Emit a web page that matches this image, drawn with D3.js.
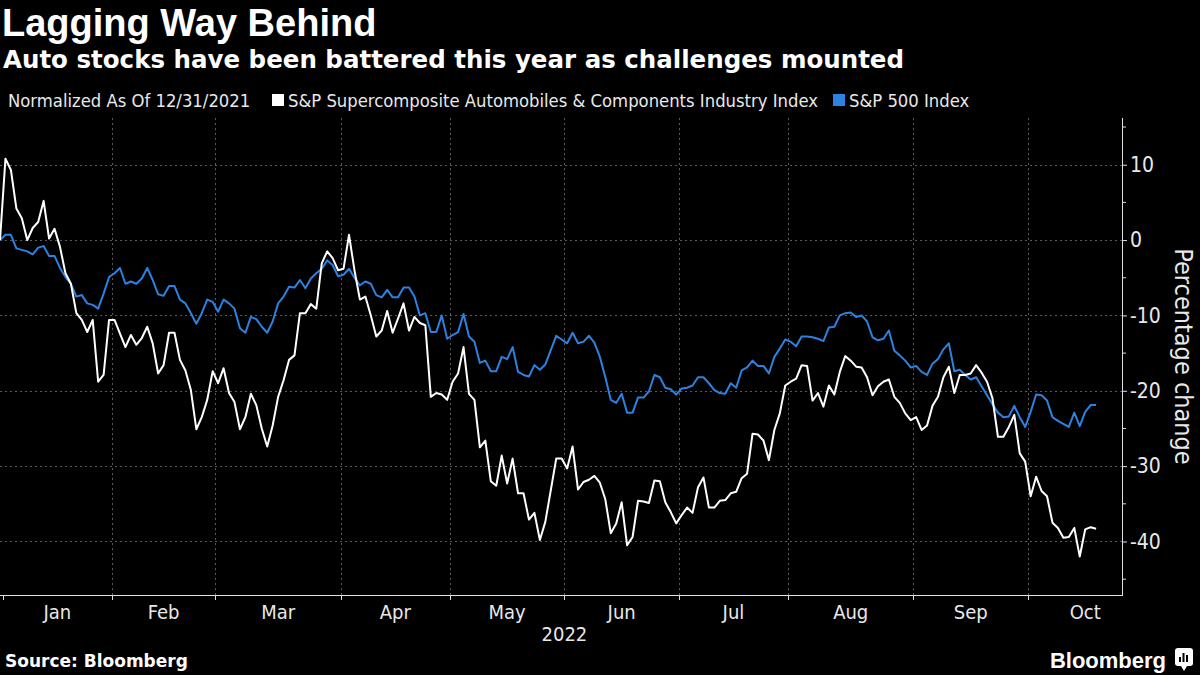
<!DOCTYPE html>
<html>
<head>
<meta charset="utf-8">
<script src="https://cdn.jsdelivr.net/npm/d3@7"></script>
<style>
  html, body { margin: 0; padding: 0; background: #000; }
  svg { display: block; }
  .cond { font-family: 'DejaVu Sans Condensed', 'DejaVu Sans', sans-serif; font-stretch: condensed; }
  .bold { font-family: 'Liberation Sans', Arial, sans-serif; font-weight: bold; }
  .wbold { font-family: 'DejaVu Sans', sans-serif; font-weight: bold; }
</style>
</head>
<body>
<svg id="chart" width="1200" height="675"></svg>
<script>
// ---- Data (trading-day index 0 = 12/31/2021, normalized % change) ----
const autoIndex = [
  0, 10.8, 9.3, 4.2, 2.9, 0.0, 1.6, 2.4, 5.2, 0.2,
  1.5, -0.9, -4.4, -5.8, -9.7, -10.6, -12.2, -10.6, -18.8, -17.9,
  -10.6, -10.6, -12.4, -14.2, -12.6, -13.9, -13.0, -11.5, -13.7, -17.7,
  -16.6, -12.3, -12.3, -15.9, -17.3, -19.9, -25.1, -23.5, -21.2, -17.4,
  -19.0, -17.0, -20.3, -21.5, -25.1, -23.5, -20.4, -21.9, -25.0, -27.4,
  -24.6, -20.8, -18.6, -15.9, -15.3, -9.7, -9.7, -8.5, -9.1, -3.1,
  -1.5, -2.4, -4.0, -3.8, 0.7, -4.0, -7.9, -7.5, -10.0, -12.8,
  -12.0, -9.4, -12.3, -10.4, -8.4, -12.0, -10.2, -11.0, -11.3, -20.8,
  -20.3, -20.5, -21.2, -18.8, -17.7, -14.2, -20.4, -21.2, -27.5, -26.6,
  -32.0, -32.6, -28.6, -32.3, -29.0, -33.6, -33.6, -37.1, -36.2, -39.8,
  -37.4, -33.2, -29.0, -29.0, -30.3, -27.4, -33.1, -32.1, -31.8, -31.3,
  -32.2, -34.4, -38.9, -37.6, -34.8, -40.5, -39.4, -34.6, -34.7, -34.9,
  -31.9, -32.0, -34.8, -36.1, -37.6, -36.5, -35.5, -36.2, -32.8, -31.5,
  -35.5, -35.5, -34.6, -34.5, -33.6, -33.4, -31.6, -31.0, -25.7, -25.8,
  -26.6, -29.2, -25.2, -23.0, -19.3, -18.8, -18.4, -16.6, -16.7, -21.3,
  -20.3, -22.1, -19.3, -20.5, -17.5, -15.4, -16.0, -16.8, -16.9, -18.2,
  -20.6, -19.4, -18.8, -18.5, -20.8, -21.6, -23.0, -23.9, -23.5, -25.2,
  -24.6, -22.0, -20.8, -18.2, -16.8, -20.3, -17.9, -17.9, -17.7, -16.6,
  -17.6, -18.8, -21.0, -26.1, -26.1, -24.8, -23.2, -28.3, -29.4, -34.0,
  -31.4, -33.3, -34.0, -37.5, -38.2, -39.5, -39.4, -38.2, -42.0, -38.4,
  -38.1, -38.3
];
const spxIndex = [
  0, 0.7, 0.7, -1.1, -1.3, -1.5, -1.9, -1.0, -0.8, -2.1,
  -2.1, -3.7, -4.9, -5.8, -7.5, -7.3, -8.4, -8.6, -9.1, -7.1,
  -4.9, -4.4, -3.7, -5.8, -5.5, -5.8, -5.1, -3.7, -5.3, -7.2,
  -7.4, -6.1, -6.1, -7.9, -8.4, -9.7, -11.1, -9.7, -7.9, -8.2,
  -9.5, -7.9, -8.4, -9.1, -11.7, -12.3, -10.2, -10.5, -11.5, -12.3,
  -10.8, -8.4, -7.5, -6.2, -6.3, -5.3, -6.4, -5.1, -4.4, -3.8,
  -2.7, -3.3, -4.8, -4.6, -3.8, -5.0, -6.0, -5.5, -5.8, -7.3,
  -7.6, -6.6, -7.6, -7.6, -6.3, -6.3, -7.5, -10.0, -9.7, -12.2,
  -12.2, -10.0, -13.1, -12.6, -12.2, -9.8, -12.8, -13.5, -16.3, -16.0,
  -17.4, -17.4, -15.5, -15.8, -14.2, -17.5, -17.9, -18.1, -16.6, -17.2,
  -16.5, -14.6, -12.7, -13.2, -13.7, -12.3, -13.7, -13.5, -12.7, -13.6,
  -15.5, -18.2, -21.2, -21.6, -20.4, -22.9, -22.9, -20.9, -20.9, -20.1,
  -17.9, -18.2, -19.6, -19.8, -20.5, -19.7, -19.6, -19.3, -18.2, -18.2,
  -19.0, -19.9, -20.3, -20.4, -19.0, -19.6, -17.3, -16.9, -16.0, -16.7,
  -16.7, -17.7, -15.5, -14.4, -13.2, -13.5, -14.1, -12.8, -12.8, -12.9,
  -13.1, -13.4, -11.6, -11.5, -10.0, -9.7, -9.6, -10.2, -10.0, -10.8,
  -12.9, -13.3, -13.1, -12.0, -14.7, -15.3, -16.0, -16.9, -16.7, -17.5,
  -17.9, -16.4, -15.8, -14.5, -13.7, -17.4, -17.2, -17.9, -18.5, -18.2,
  -19.4, -20.6, -21.8, -22.9, -23.5, -23.4, -22.0, -23.5, -24.8, -22.8,
  -20.5, -20.6, -21.3, -23.5, -24.0, -24.4, -24.8, -22.9, -24.7, -22.8,
  -21.9, -21.9
];
const months = ["Jan", "Feb", "Mar", "Apr", "May", "Jun", "Jul", "Aug", "Sep", "Oct"];
const monthStartIdx = [1, 21, 40, 63, 83, 104, 125, 145, 168, 189];
const monthTradingDays = [20, 19, 23, 20, 21, 21, 20, 23, 21, 21];
const yTicks = [10, 0, -10, -20, -30, -40];
const yMinorTicks = [15, 5, -5, -15, -25, -35, -45];
const seriesNames = ["S&P Supercomposite Automobiles & Components Industry Index", "S&P 500 Index"];
const seriesColors = ["#ffffff", "#2b82e0"];

// ---- Layout ----
const svg = d3.select("#chart");
svg.append("rect").attr("width", 1200).attr("height", 675).attr("fill", "#000");

const plot = { left: 0, right: 1122, top: 118, bottom: 595 };
const x = d3.scaleLinear().domain([0, 205.75]).range([plot.left, plot.right]);
const y = d3.scaleLinear().domain([-47.1, 16.2]).range([plot.bottom, plot.top]);

// Titles
svg.append("text").attr("class", "bold").attr("x", 2).attr("y", 36)
  .attr("font-size", 38).attr("fill", "#fff").text("Lagging Way Behind");
svg.append("text").attr("class", "wbold").attr("x", 3).attr("y", 68)
  .attr("font-size", 24.5).attr("fill", "#fff")
  .text("Auto stocks have been battered this year as challenges mounted");

// Legend
const lg = svg.append("g").attr("class", "cond").attr("font-size", 18.3).attr("fill", "#e8e8e8");
lg.append("text").attr("x", 8).attr("y", 107).text("Normalized As Of 12/31/2021");
lg.append("rect").attr("x", 272).attr("y", 94).attr("width", 12).attr("height", 12).attr("fill", seriesColors[0]);
lg.append("text").attr("x", 288).attr("y", 107).text(seriesNames[0]);
lg.append("rect").attr("x", 833).attr("y", 94).attr("width", 12).attr("height", 12).attr("fill", seriesColors[1]);
lg.append("text").attr("x", 849).attr("y", 107).text(seriesNames[1]);

// Grid
const grid = svg.append("g").attr("stroke", "#5a5a5a").attr("stroke-width", 1).attr("stroke-dasharray", "2,3");
grid.selectAll("line.h").data(yTicks).join("line").attr("class", "h")
  .attr("x1", plot.left).attr("x2", plot.right)
  .attr("y1", d => Math.round(y(d)) + 0.5).attr("y2", d => Math.round(y(d)) + 0.5);
grid.selectAll("line.v").data(monthStartIdx.slice(1)).join("line").attr("class", "v")
  .attr("x1", d => Math.round(x(d - 0.5)) + 0.5).attr("x2", d => Math.round(x(d - 0.5)) + 0.5)
  .attr("y1", plot.top).attr("y2", plot.bottom);

// Lines
const line = d3.line().x((d, i) => x(i)).y(d => y(d));
svg.append("path").datum(spxIndex).attr("d", line).attr("fill", "none")
  .attr("stroke", seriesColors[1]).attr("stroke-width", 2).attr("stroke-linejoin", "round");
svg.append("path").datum(autoIndex).attr("d", line).attr("fill", "none")
  .attr("stroke", seriesColors[0]).attr("stroke-width", 2).attr("stroke-linejoin", "round");

// Y axis (right)
const yAxis = d3.axisRight(y).tickValues(yTicks).tickSize(5).tickPadding(3).tickFormat(d3.format("d"));
const ya = svg.append("g").attr("transform", `translate(${plot.right},0)`).call(yAxis);
ya.select(".domain").attr("stroke", "#e0e0e0").attr("d", `M0.5,${plot.top}V${plot.bottom}`);
ya.selectAll(".tick line").attr("stroke", "#e0e0e0");
ya.selectAll(".tick text").attr("class", "cond").attr("font-size", 21).attr("fill", "#e8e8e8")
  .text(d => d < 0 ? "-" + Math.abs(d) : d);
ya.selectAll(".minor").data(yMinorTicks).join("line").attr("class", "minor")
  .attr("x1", 0).attr("x2", 4).attr("y1", d => y(d)).attr("y2", d => y(d)).attr("stroke", "#e0e0e0");

svg.append("text").attr("class", "cond").attr("font-size", 25).attr("fill", "#e8e8e8")
  .attr("transform", `translate(1175,${(plot.top + plot.bottom) / 2}) rotate(90)`)
  .attr("text-anchor", "middle").text("Percentage change");

// X axis
const xa = svg.append("g");
xa.append("line").attr("x1", plot.left).attr("x2", plot.right + 1)
  .attr("y1", plot.bottom + 0.5).attr("y2", plot.bottom + 0.5).attr("stroke", "#e0e0e0");
xa.selectAll("line.t").data(monthStartIdx).join("line").attr("class", "t")
  .attr("x1", d => Math.round(x(d - 0.5)) + 0.5).attr("x2", d => Math.round(x(d - 0.5)) + 0.5)
  .attr("y1", plot.bottom).attr("y2", plot.bottom + 5).attr("stroke", "#e0e0e0");
xa.selectAll("text.m").data(months).join("text").attr("class", "m cond")
  .attr("x", (d, i) => x(monthStartIdx[i] - 0.5 + monthTradingDays[i] / 2))
  .attr("y", plot.bottom + 24).attr("text-anchor", "middle")
  .attr("font-size", 20).attr("fill", "#e8e8e8").text(d => d);
xa.append("text").attr("class", "cond").attr("x", x(monthStartIdx[5] - 0.5)).attr("y", plot.bottom + 46)
  .attr("text-anchor", "middle").attr("font-size", 20).attr("fill", "#e8e8e8").text("2022");

// Footer
svg.append("text").attr("class", "wbold").attr("x", 5).attr("y", 667)
  .attr("font-size", 17).attr("fill", "#fff").text("Source: Bloomberg");
svg.append("text").attr("class", "bold").attr("x", 1166).attr("y", 668).attr("text-anchor", "end")
  .attr("font-size", 22).attr("fill", "#fff").text("Bloomberg");
const logo = svg.append("g").attr("transform", "translate(1175,648)");
logo.append("rect").attr("width", 18).attr("height", 18).attr("rx", 3).attr("fill", "#fff");
logo.append("path").attr("d", "M6,18 L9,23 L12,18 Z").attr("fill", "#fff");
[[4, 9, 5], [7.5, 5, 9], [11, 7, 7]].forEach(b => {
  logo.append("rect").attr("x", b[0]).attr("y", b[1]).attr("width", 2).attr("height", b[2]).attr("fill", "#000");
});
</script>
</body>
</html>
